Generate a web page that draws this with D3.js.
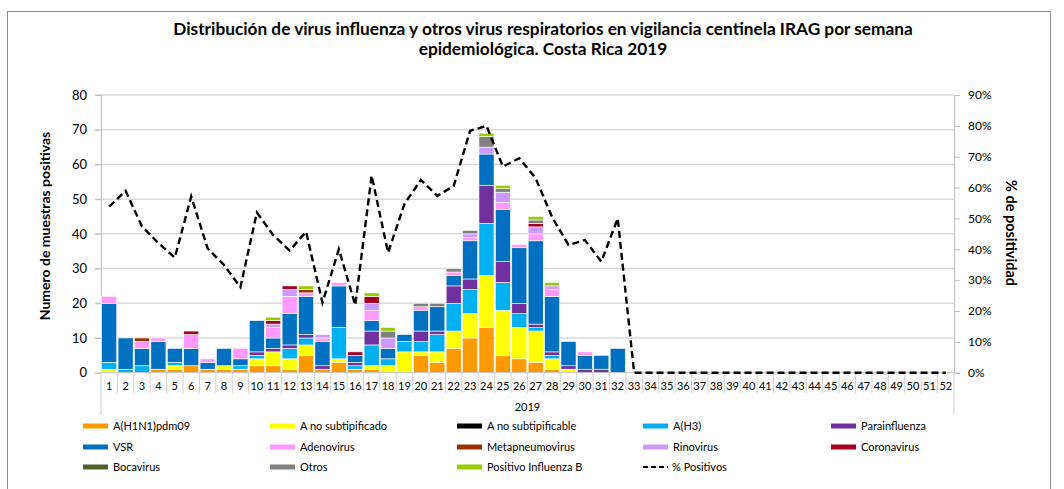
<!doctype html>
<html lang="es">
<head>
<meta charset="UTF-8">
<title>IRAG Costa Rica 2019</title>
<script src="https://d3js.org/d3.v7.min.js"></script>
<style>
  body { margin: 0; background: #fff; }
  text { font-family: Lato, "Open Sans", sans-serif; fill: #000; }
</style>
</head>
<body>
<script>
// semanas epidemiológicas
var weeks = d3.range(1, 53);

// series (muestras positivas por semana, semanas 1-32; el resto sin datos)
var h1n1      = [0,0,0,1,1,2,1,1,1,2, 2,1,5,1,3,1,1,0,0,5, 3,7,10,13,5,4,3,1,0,0, 0,0];
var aNoSub    = [1,0,0,0,1,0,0,1,0,2, 4,3,3,0,1,0,1,2,6,1, 3,5,7,15,13,9,9,3,1,0, 0,0];
var aNoSubble = [0,0,0,0,0,0,0,0,0,0, 0,0,0,0,0,0,0,0,0,0, 0,0,0,0,0,0,0,0,0,0, 0,0];
var h3        = [2,1,2,0,1,0,0,0,1,1, 0,3,2,0,9,1,6,2,3,3, 5,8,7,15,8,4,1,1,0,0, 0,0];
var parainf   = [0,0,0,0,0,0,0,0,0,1, 1,1,1,1,0,1,4,0,0,3, 1,5,3,11,6,3,1,1,1,1, 1,0];
var vsr       = [17,9,5,8,4,5,2,5,2,9, 3,9,11,7,12,2,3,3,2,6, 7,3,11,9,15,16,24,16,7,4, 4,7];
var adeno     = [2,0,2,1,0,4,1,0,3,0, 3,5,1,1,1,0,3,0,0,1, 0,1,1,0,2,1,2,2,0,1, 0,0];
var metapneu  = [0,0,1,0,0,0,0,0,0,0, 0,0,1,0,0,0,0,0,0,0, 0,0,0,0,0,0,0,0,0,0, 0,0];
var rino      = [0,0,0,0,0,0,0,0,0,0, 1,2,0,1,0,0,2,3,0,0, 0,0,1,2,3,0,2,1,0,0, 0,0];
var corona    = [0,0,0,0,0,1,0,0,0,0, 1,1,0,0,0,1,2,0,0,0, 0,0,0,0,0,0,1,0,0,0, 0,0];
var boca      = [0,0,0,0,0,0,0,0,0,0, 0,0,0,0,0,0,0,0,0,0, 0,0,0,0,0,0,0,0,0,0, 0,0];
var otros     = [0,0,0,0,0,0,0,0,0,0, 0,0,0,0,0,0,0,2,0,1, 1,1,1,3,1,0,1,0,0,0, 0,0];
var fluB      = [0,0,0,0,0,0,0,0,0,0, 1,0,1,0,0,0,1,1,0,0, 0,0,0,1,1,0,1,1,0,0, 0,0];

// % de positividad por semana (semanas 33-52 = 0)
var pctPos = [0.538,0.589,0.474,0.420,0.373,0.571,0.403,0.349,0.277,0.519,
              0.446,0.396,0.457,0.227,0.400,0.219,0.639,0.389,0.547,0.625,
              0.573,0.605,0.784,0.800,0.668,0.695,0.630,0.504,0.414,0.430,
              0.360,0.500,0,0,0,0,0,0,0,0, 0,0,0,0,0,0,0,0,0,0, 0,0];

var leftTicks = [0, 10, 20, 30, 40, 50, 60, 70, 80];
var rightTicks = [0, 0.1, 0.2, 0.3, 0.4, 0.5, 0.6, 0.7, 0.8, 0.9];

var series = [
  { name: "A(H1N1)pdm09",          values: h1n1,      color: "#ff9900" },
  { name: "A no subtipificado",    values: aNoSub,    color: "#ffff00" },
  { name: "A no subtipificable",   values: aNoSubble, color: "#000000" },
  { name: "A(H3)",                 values: h3,        color: "#00b0f0" },
  { name: "Parainfluenza",         values: parainf,   color: "#7030a0" },
  { name: "VSR",                   values: vsr,       color: "#0070c0" },
  { name: "Adenovirus",            values: adeno,     color: "#ff99ff" },
  { name: "Metapneumovirus",       values: metapneu,  color: "#993300" },
  { name: "Rinovirus",             values: rino,      color: "#cc99ff" },
  { name: "Coronavirus",           values: corona,    color: "#a50021" },
  { name: "Bocavirus",             values: boca,      color: "#4f6228" },
  { name: "Otros",                 values: otros,     color: "#808080" },
  { name: "Positivo Influenza  B", values: fluB,      color: "#99cc00" }
];

var width = 1064, height = 489;
var plotL = 101, plotR = 954, plotT = 95, plotB = 372.7;

var svg = d3.select("body").append("svg")
    .attr("width", width)
    .attr("height", height);

// marco del gráfico
svg.append("rect")
    .attr("x", 7.5).attr("y", 11.5)
    .attr("width", 1043).attr("height", 490)
    .attr("fill", "none")
    .attr("stroke", "#8c8c8c");

var x = d3.scaleBand()
    .domain(weeks)
    .range([plotL, plotR])
    .paddingInner(0.08)
    .paddingOuter(0.04);

var y = d3.scaleLinear().domain([0, 80]).range([plotB, plotT]);
var y2 = d3.scaleLinear().domain([0, 0.9]).range([plotB, plotT]);

// title, sized so the first line spans like the original
var title = svg.append("text")
    .attr("text-anchor", "middle")
    .attr("font-weight", "bold")
    .style("font-size", "14.5px");
var t1 = title.append("tspan").attr("x", 543).attr("y", 35)
    .text("Distribución de virus influenza y otros virus respiratorios en vigilancia centinela IRAG por semana");
title.append("tspan").attr("x", 543).attr("y", 55)
    .text("epidemiológica. Costa Rica 2019");
var tw = t1.node().getComputedTextLength();
title.style("font-size", (14.5 * 740 / tw) + "px");

// gridlines
svg.append("g")
    .selectAll("line")
    .data(leftTicks.slice(1))
    .enter().append("line")
    .attr("x1", plotL - 6).attr("x2", plotR)
    .attr("y1", function(d) { return y(d); })
    .attr("y2", function(d) { return y(d); })
    .attr("stroke", "#d9d9d9")
    .attr("stroke-width", 1.5);

// left axis
var leftAxis = svg.append("g")
    .attr("transform", "translate(" + plotL + ",0)")
    .call(d3.axisLeft(y).tickValues(leftTicks).tickSize(6).tickPadding(8));
leftAxis.select(".domain").attr("stroke", "#bfbfbf");
leftAxis.selectAll(".tick line").attr("stroke", "#bfbfbf");
leftAxis.selectAll("text").style("font-size", "13px").attr("fill", "#000");

// right axis
var rightAxis = svg.append("g")
    .attr("transform", "translate(" + plotR + ",0)")
    .call(d3.axisRight(y2).tickValues(rightTicks).tickFormat(d3.format(".0%")).tickSize(6).tickPadding(8));
rightAxis.select(".domain").attr("stroke", "#bfbfbf");
rightAxis.selectAll(".tick line").attr("stroke", "#bfbfbf");
rightAxis.selectAll("text").style("font-size", "12px").attr("fill", "#000");

// stacked bars
var table = weeks.map(function(w, i) {
  var row = { week: w };
  series.forEach(function(s) { row[s.name] = s.values[i] || 0; });
  return row;
});
var stacked = d3.stack().keys(series.map(function(s) { return s.name; }))(table);

svg.append("g")
    .selectAll("g")
    .data(stacked)
    .enter().append("g")
    .attr("fill", function(d, i) { return series[i].color; })
    .selectAll("rect")
    .data(function(d) { return d.filter(function(p) { return p[1] > p[0]; }); })
    .enter().append("rect")
    .attr("x", function(d) { return x(d.data.week); })
    .attr("width", x.bandwidth())
    .attr("y", function(d) { return y(d[1]); })
    .attr("height", function(d) { return y(d[0]) - y(d[1]); })
    .attr("stroke", "#ffffff")
    .attr("stroke-width", 0.6);

// bottom axis baseline
svg.append("line")
    .attr("x1", plotL).attr("x2", plotR)
    .attr("y1", plotB).attr("y2", plotB)
    .attr("stroke", "#bfbfbf");

// category separators
var step = x.step();
var bounds = weeks.map(function(w) { return x(w) - x.paddingInner() * step / 2; });
bounds.push(plotR);
bounds[0] = plotL;
svg.append("g")
    .selectAll("line")
    .data(bounds)
    .enter().append("line")
    .attr("x1", function(d) { return d; })
    .attr("x2", function(d) { return d; })
    .attr("y1", plotB)
    .attr("y2", function(d, i) { return (i === 0 || i === bounds.length - 1) ? 415 : 393; })
    .attr("stroke", "#d0d0d0");

svg.append("g")
    .selectAll("text")
    .data(weeks)
    .enter().append("text")
    .attr("x", function(d) { return x(d) + x.bandwidth() / 2; })
    .attr("y", 390)
    .attr("text-anchor", "middle")
    .style("font-size", "11px")
    .text(function(d) { return d; });

svg.append("text")
    .attr("x", (plotL + plotR) / 2)
    .attr("y", 411)
    .attr("text-anchor", "middle")
    .style("font-size", "11px")
    .text("2019");

// % positivos line
var line = d3.line()
    .x(function(d, i) { return x(weeks[i]) + x.bandwidth() / 2; })
    .y(function(d) { return y2(d); });

svg.append("path")
    .datum(pctPos)
    .attr("d", line)
    .attr("fill", "none")
    .attr("stroke", "#000")
    .attr("stroke-width", 2.4)
    .attr("stroke-dasharray", "7,4");

// axis titles
svg.append("text")
    .attr("transform", "translate(50,226) rotate(-90)")
    .attr("text-anchor", "middle")
    .attr("font-weight", "bold")
    .style("font-size", "14px")
    .text("Numero de muestras positivas");

svg.append("text")
    .attr("transform", "translate(1006,233) rotate(90)")
    .attr("text-anchor", "middle")
    .attr("font-weight", "bold")
    .style("font-size", "14.5px")
    .text("% de positividad");

// legend
var legendItems = series.map(function(s) { return { name: s.name, color: s.color, dash: false }; });
legendItems.push({ name: "% Positivos", color: "#000", dash: true });
var colX = [83, 270, 457, 643, 831];
var rowY = [426, 447, 467];

var leg = svg.append("g")
    .selectAll("g")
    .data(legendItems)
    .enter().append("g")
    .attr("transform", function(d, i) {
      return "translate(" + colX[i % 5] + "," + rowY[Math.floor(i / 5)] + ")";
    });

leg.append("line")
    .attr("x1", 0).attr("x2", 25)
    .attr("y1", 0).attr("y2", 0)
    .attr("stroke", function(d) { return d.color; })
    .attr("stroke-width", function(d) { return d.dash ? 2 : 5; })
    .attr("stroke-dasharray", function(d) { return d.dash ? "5,3" : null; });

leg.append("text")
    .attr("x", function(d) { return d.dash ? 29 : 30; })
    .attr("y", 4)
    .style("font-size", "11px")
    .text(function(d) { return d.name; });
</script>
</body>
</html>
